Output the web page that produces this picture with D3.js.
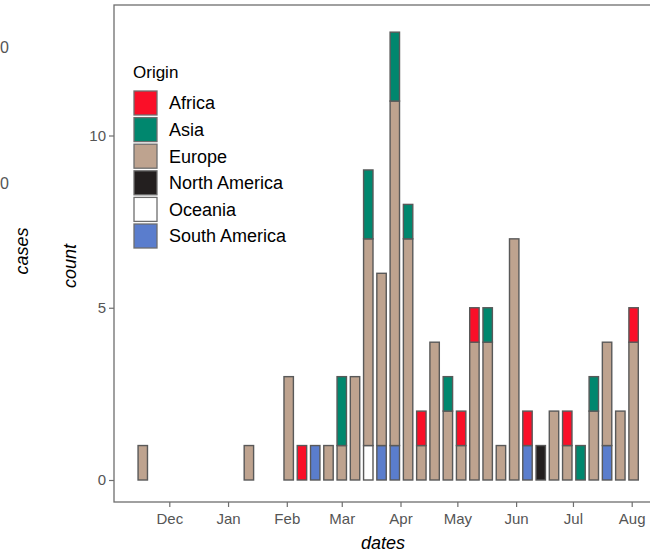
<!DOCTYPE html>
<html>
<head>
<meta charset="utf-8">
<script src="https://cdn.jsdelivr.net/npm/d3@7"></script>
<style>
  body { margin: 0; background: #fff; }
  svg { display: block; font-family: "Liberation Sans", Arial, sans-serif; }
</style>
</head>
<body>
<script>
// weekly counts by origin, one entry per week (week start, Sunday)
const weeks = ["2019-11-17","2020-01-12","2020-02-02","2020-02-09","2020-02-16","2020-02-23",
  "2020-03-01","2020-03-08","2020-03-15","2020-03-22","2020-03-29","2020-04-05","2020-04-12",
  "2020-04-19","2020-04-26","2020-05-03","2020-05-10","2020-05-17","2020-05-24","2020-05-31",
  "2020-06-07","2020-06-14","2020-06-21","2020-06-28","2020-07-05","2020-07-12","2020-07-19",
  "2020-07-26","2020-08-02"];
const africa       = [0,0, 0,1,0,0,0,0,0,0,0,0,1,0,0,1,1,0,0,0,1,0,0,1,0,0,0,0,1];
const asia         = [0,0, 0,0,0,0,2,0,2,0,2,1,0,0,1,0,0,1,0,0,0,0,0,0,1,1,0,0,0];
const europe       = [1,1, 3,0,0,1,1,3,6,5,10,7,1,4,2,1,4,4,1,7,0,0,2,1,0,2,3,2,4];
const northAmerica = [0,0, 0,0,0,0,0,0,0,0,0,0,0,0,0,0,0,0,0,0,0,1,0,0,0,0,0,0,0];
const oceania      = [0,0, 0,0,0,0,0,0,1,0,0,0,0,0,0,0,0,0,0,0,0,0,0,0,0,0,0,0,0];
const southAmerica = [0,0, 0,0,1,0,0,0,0,1,1,0,0,0,0,0,0,0,0,0,1,0,0,0,0,0,1,0,0];

const origins = ["Africa", "Asia", "Europe", "North America", "Oceania", "South America"];
const colors = ["#fa0f28", "#00876e", "#bea38f", "#231f1f", "#ffffff", "#5a7dcd"];
const monthTicks = ["2019-12-01","2020-01-01","2020-02-01","2020-03-01","2020-04-01",
  "2020-05-01","2020-06-01","2020-07-01","2020-08-01"];
const yTicks = [0, 5, 10];

const parse = d3.utcParse("%Y-%m-%d");
const series = { "Africa": africa, "Asia": asia, "Europe": europe,
  "North America": northAmerica, "Oceania": oceania, "South America": southAmerica };

const rows = weeks.map((w, i) => {
  const r = { date: parse(w) };
  origins.forEach(o => r[o] = series[o][i]);
  return r;
});

const width = 650, height = 556;
const panel = { left: 114, top: 5, right: 662, bottom: 502 };

const svg = d3.select("body").append("svg")
  .attr("width", width).attr("height", height);

const x = d3.scaleUtc()
  .domain([parse("2019-12-01"), parse("2020-08-01")])
  .range([169.3, 631.7]);
const y = d3.scaleLinear().domain([0, 10]).range([480, 135.5]);

const color = d3.scaleOrdinal().domain(origins).range(colors);

// ggplot stacks the first level on top, so stack bottom-up in reverse
const stack = d3.stack().keys(origins.slice().reverse());
const layers = stack(rows);

const weekPx = x(parse("2020-02-09")) - x(parse("2020-02-02"));
const barW = weekPx * 0.71;

// panel border (right edge is off canvas)
svg.append("rect")
  .attr("x", panel.left).attr("y", panel.top)
  .attr("width", panel.right - panel.left).attr("height", panel.bottom - panel.top)
  .attr("fill", "none").attr("stroke", "#6e6e6e").attr("stroke-width", 1.3);

const g = svg.append("g");
layers.forEach(layer => {
  g.selectAll(null)
    .data(layer.filter(d => d[1] - d[0] > 0))
    .enter().append("rect")
    .attr("x", d => x(d.data.date) - barW / 2)
    .attr("y", d => y(d[1]))
    .attr("width", barW)
    .attr("height", d => y(d[0]) - y(d[1]))
    .attr("fill", color(layer.key))
    .attr("stroke", "#595959")
    .attr("stroke-width", 1.4);
});

// axes
const xAxis = d3.axisBottom(x)
  .tickValues(monthTicks.map(parse))
  .tickFormat(d3.utcFormat("%b"))
  .tickSize(5).tickPadding(3);
const yAxis = d3.axisLeft(y).tickValues(yTicks).tickSize(5).tickPadding(3);

const gx = svg.append("g").attr("transform", `translate(0,${panel.bottom})`).call(xAxis);
const gy = svg.append("g").attr("transform", `translate(${panel.left},0)`).call(yAxis);
[gx, gy].forEach(a => {
  a.select(".domain").remove();
  a.selectAll(".tick line").attr("stroke", "#6e6e6e").attr("stroke-width", 1.2);
  a.selectAll(".tick text").attr("fill", "#555").style("font-size", "15px")
    .style("font-family", "Liberation Sans, Arial, sans-serif");
});
gx.selectAll(".tick text").attr("dy", "0.95em");

// axis titles
svg.append("text")
  .attr("x", 383).attr("y", 549)
  .attr("text-anchor", "middle")
  .style("font-size", "18px").style("font-style", "italic")
  .text("dates");
svg.append("text")
  .attr("transform", "translate(76,266) rotate(-90)")
  .attr("text-anchor", "middle")
  .style("font-size", "18px").style("font-style", "italic")
  .text("count");

// fragments of the neighbouring chart cut off at the left edge
svg.append("text")
  .attr("transform", "translate(28,251) rotate(-90)")
  .attr("text-anchor", "middle")
  .style("font-size", "18px").style("font-style", "italic")
  .text("cases");
svg.selectAll(".frag").data(["0", "0"]).enter().append("text")
  .attr("class", "frag")
  .attr("x", 0).attr("y", (d, i) => 53 + i * 136)
  .attr("text-anchor", "start").attr("fill", "#555")
  .style("font-size", "16px")
  .text(d => d);

// legend
const legend = svg.append("g").attr("transform", "translate(133,0)");
legend.append("text")
  .attr("x", 0).attr("y", 78)
  .style("font-size", "17px")
  .text("Origin");
const item = legend.selectAll(".item").data(origins).enter().append("g")
  .attr("transform", (d, i) => `translate(0,${90 + i * 26.6})`);
item.append("rect")
  .attr("x", 1).attr("y", 1)
  .attr("width", 23).attr("height", 24)
  .attr("fill", d => color(d))
  .attr("stroke", "#6e6e6e").attr("stroke-width", 1.3);
item.append("text")
  .attr("x", 36).attr("y", 13).attr("dy", "0.36em")
  .style("font-size", "18px")
  .text(d => d);
</script>
</body>
</html>
